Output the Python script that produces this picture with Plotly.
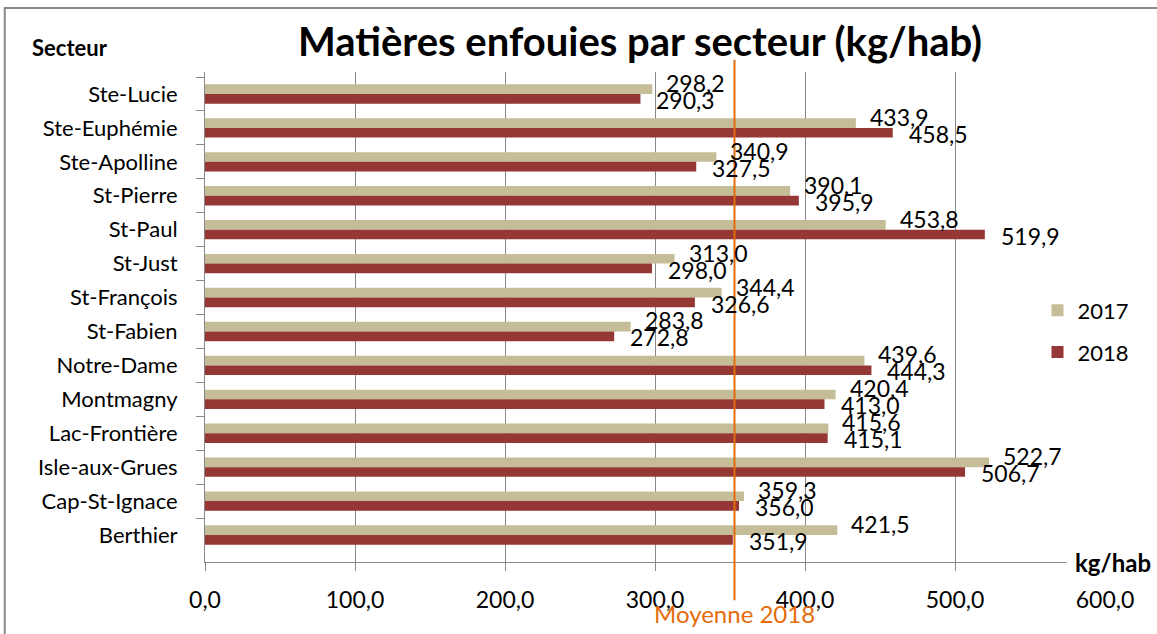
import plotly.graph_objects as go

# ── Data ───────────────────────────────────────────────────────────────────────
secteurs = [
    "Ste-Lucie", "Ste-Euphémie", "Ste-Apolline", "St-Pierre", "St-Paul",
    "St-Just", "St-François", "St-Fabien", "Notre-Dame", "Montmagny",
    "Lac-Frontière", "Isle-aux-Grues", "Cap-St-Ignace", "Berthier",
]
val_2017 = [298.2, 433.9, 340.9, 390.1, 453.8, 313.0, 344.4, 283.8,
            439.6, 420.4, 415.6, 522.7, 359.3, 421.5]
val_2018 = [290.3, 458.5, 327.5, 395.9, 519.9, 298.0, 326.6, 272.8,
            444.3, 413.0, 415.1, 506.7, 356.0, 351.9]
moyenne_2018 = 353
x_ticks = [0, 100, 200, 300, 400, 500, 600]

FONT = "Lato, 'Open Sans', sans-serif"
TAN = "#C4BD97"
RED = "#953735"
GRID = "#888888"
ORANGE = "#E46C0A"

fig = go.Figure()

fig.add_trace(go.Bar(
    y=secteurs, x=val_2017, name="2017", orientation="h",
    marker=dict(color=TAN, line=dict(width=0)),
    legendgroup="a",
))
fig.add_trace(go.Bar(
    y=secteurs, x=val_2018, name="2018", orientation="h",
    marker=dict(color=RED, line=dict(width=0)),
    legendgroup="b",
))

# data labels
def fmt(v):
    return f"{v:.1f}".replace(".", ",")

for s, v in zip(secteurs, val_2017):
    fig.add_annotation(x=v, y=s, text=fmt(v), showarrow=False,
                       xanchor="left", yanchor="middle", xshift=12, yshift=11,
                       font=dict(size=23, color="black"))
for s, v in zip(secteurs, val_2018):
    fig.add_annotation(x=v, y=s, text=fmt(v), showarrow=False,
                       xanchor="left", yanchor="middle", xshift=14, yshift=-6,
                       font=dict(size=23, color="black"))

# moyenne 2018
fig.add_shape(type="line", xref="x", yref="paper",
              x0=moyenne_2018, x1=moyenne_2018, y0=-0.078, y1=1.025,
              line=dict(color=ORANGE, width=2))
fig.add_annotation(x=moyenne_2018, xref="x", y=-0.105, yref="paper",
                   text="Moyenne 2018", showarrow=False,
                   xanchor="center", yanchor="middle",
                   font=dict(size=24, color=ORANGE))

# axis labels
fig.add_annotation(x=-0.194, xref="paper", y=1.051, yref="paper",
                   text="<b>Secteur</b>", showarrow=False,
                   xanchor="left", yanchor="middle", font=dict(size=22, color="black"))
fig.add_annotation(x=0.9567, xref="paper", y=0.0, yref="paper",
                   text="<b>kg/hab</b>", showarrow=False,
                   xanchor="left", yanchor="middle", bgcolor="white",
                   borderpad=8, font=dict(size=24, color="black"))

# outer border (top and left only visible)
fig.add_shape(type="rect", xref="paper", yref="paper",
              x0=-0.2225, x1=1.2, y0=-0.4, y1=1.1306,
              line=dict(color=GRID, width=2), layer="below")

fig.update_layout(
    width=1157, height=634,
    font=dict(family=FONT, color="black"),
    separators=", ",
    title=dict(text="<b>Matières enfouies par secteur (kg/hab)</b>",
               x=640 / 1157, xanchor="center", xref="container",
               y=1 - 42 / 634, yanchor="middle",
               font=dict(size=40, color="black")),
    barmode="group", bargap=0.43, bargroupgap=0,
    plot_bgcolor="white", paper_bgcolor="white",
    margin=dict(l=205, r=52, t=72, b=72),
    xaxis=dict(
        range=[0, 600], tickvals=x_ticks, tickformat=".1f",
        showgrid=True, gridcolor=GRID, gridwidth=1,
        showline=True, linecolor=GRID, linewidth=1,
        ticks="outside", ticklen=8, tickcolor=GRID,
        ticklabelstandoff=9,
        tickfont=dict(size=23), zeroline=False,
    ),
    yaxis=dict(
        autorange="reversed", showgrid=False,
        showline=True, linecolor=GRID, linewidth=1,
        ticks="outside", ticklen=8, tickcolor=GRID,
        tickson="boundaries", ticklabelstandoff=22,
        tickfont=dict(size=22),
    ),
    legend=dict(
        x=0.925, xanchor="left", y=0.556, yanchor="top",
        bgcolor="white", font=dict(size=22),
        traceorder="grouped", tracegroupgap=10,
    ),
)

fig.write_html("out.html", config={"displayModeBar": False},
               post_script="document.body.style.margin='0';")
